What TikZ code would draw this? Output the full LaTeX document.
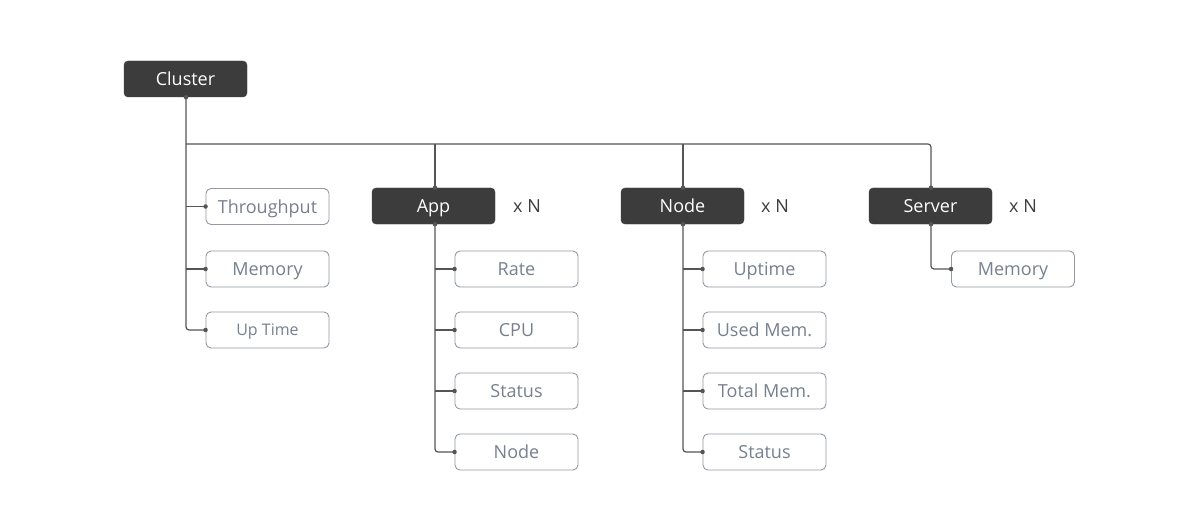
\documentclass[tikz,border=0pt]{standalone}
\usepackage{fontspec}
\setmainfont{Open Sans}
\definecolor{darkbox}{HTML}{3C3C3C}
\definecolor{childborder}{HTML}{9399A3}
\definecolor{childtext}{HTML}{77808F}
\definecolor{linec}{HTML}{555555}
\begin{document}
\begin{tikzpicture}[x=1pt,y=-1pt,
  parent/.style={draw=darkbox,fill=darkbox,rounded corners=4pt,minimum width=123pt,minimum height=36pt,inner sep=0pt,text height=15pt,text depth=2pt,text=white,font=\fontsize{18}{20}\selectfont},
  child/.style={draw=childborder,line width=0.9pt,fill=white,rounded corners=5pt,minimum width=123pt,minimum height=36pt,inner sep=0pt,text height=15pt,text depth=2pt,text=childtext,font=\fontsize{18}{20}\selectfont},
  conn/.style={draw=linec,line width=1.2pt,rounded corners=3pt},
  dotc/.style={circle,fill=linec,inner sep=0pt,minimum size=4.5pt},
  mult/.style={text=darkbox,text height=15pt,text depth=2pt,font=\fontsize{18}{20}\selectfont}]
\useasboundingbox[fill=white] (0,0) rectangle (1200,532);
% parents
\node[parent] (cluster) at (185.5,79) {Cluster};
\node[parent] (app) at (433.5,206) {App};
\node[parent] (node) at (682.5,206) {Node};
\node[parent] (server) at (930.5,206) {Server};
\node[mult] (xn1) at (527,206) {x N};
\node[mult] (xn2) at (775,206) {x N};
\node[mult] (xn3) at (1023,206) {x N};
% cluster children
\node[child] (thr) at (267.5,206.5) {Throughput};
\node[child] (cmem) at (267.5,269) {Memory};
\node[child,text height=13.7pt,text depth=2pt] (upt) at (267.5,330) {\fontsize{16}{18}\selectfont Up Time};
% app children
\node[child] (rate) at (516.5,269) {Rate};
\node[child] (cpu) at (516.5,330) {CPU};
\node[child] (astat) at (516.5,391) {Status};
\node[child] (anode) at (516.5,452) {Node};
% node children
\node[child] (uptime) at (764.5,269) {Uptime};
\node[child] (used) at (764.5,330) {Used Mem.};
\node[child] (total) at (764.5,391) {Total Mem.};
\node[child] (nstat) at (764.5,452) {Status};
% server children
\node[child] (smem) at (1013,269) {Memory};
% connectors
\draw[conn] (cluster.south -| 186,0) -- (upt.west -| 186,0) -- (upt.west);
\draw[conn] (186,144) -- (931,144) -- (server.north -| 931,0);
\draw[conn] (app.north -| 435,0) -- (435,144);
\draw[conn] (node.north -| 683,0) -- (683,144);
\draw[conn] (thr.west -| 186,0) -- (thr.west);
\draw[conn] (cmem.west -| 186,0) -- (cmem.west);
\draw[conn] (app.south -| 435,0) -- (anode.west -| 435,0) -- (anode.west);
\draw[conn] (rate.west -| 435,0) -- (rate.west);
\draw[conn] (cpu.west -| 435,0) -- (cpu.west);
\draw[conn] (astat.west -| 435,0) -- (astat.west);
\draw[conn] (node.south -| 683,0) -- (nstat.west -| 683,0) -- (nstat.west);
\draw[conn] (uptime.west -| 683,0) -- (uptime.west);
\draw[conn] (used.west -| 683,0) -- (used.west);
\draw[conn] (total.west -| 683,0) -- (total.west);
\draw[conn] (server.south -| 931,0) -- (smem.west -| 931,0) -- (smem.west);
% dots
\foreach \n in {thr,cmem,upt,rate,cpu,astat,anode,uptime,used,total,nstat,smem}
  \node[dotc] at (\n.west) {};
\node[dotc] at (cluster.south -| 186,0) {};
\node[dotc] at (app.north -| 435,0) {};
\node[dotc] at (app.south -| 435,0) {};
\node[dotc] at (node.north -| 683,0) {};
\node[dotc] at (node.south -| 683,0) {};
\node[dotc] at (server.north -| 931,0) {};
\node[dotc] at (server.south -| 931,0) {};
\end{tikzpicture}
\end{document}
